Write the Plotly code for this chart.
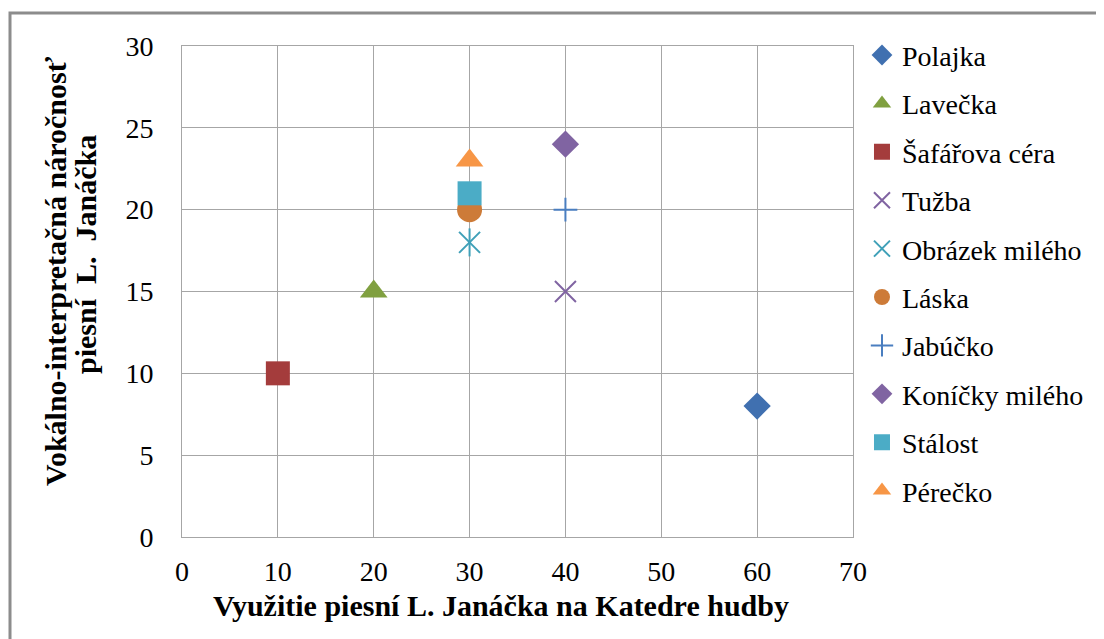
import plotly.graph_objects as go

names = ["Polajka", "Lavečka", "Šafářova céra", "Tužba", "Obrázek milého",
         "Láska", "Jabúčko", "Koníčky milého", "Stálost", "Pérečko"]
x_vals = [60, 20, 10, 40, 30, 30, 40, 40, 30, 30]
y_vals = [8, 15, 10, 15, 18, 20, 20, 24, 21, 23]
symbols = ["diamond", "triangle-up", "square", "x-thin-open", "x-thin-open",
           "circle", "cross-thin-open", "diamond", "square", "triangle-up"]
sizes = [21, 24, 24, 21, 21, 25, 17, 21, 24, 24]
colors = ["#4070B0", "#80A040", "#A43C3C", "#8064A2", "#3FA0B8",
          "#CD7B38", "#4A7EC0", "#8064A2", "#4BACC6", "#F79646"]

FONT = "Liberation Serif"
FS = 28
TFS = 30

fig = go.Figure()
for i, n in enumerate(names):
    thin = symbols[i].endswith("-open")
    fig.add_trace(go.Scatter(
        x=[x_vals[i]], y=[y_vals[i]], mode="markers", name=n,
        legendgroup=n,
        marker=dict(symbol=symbols[i], size=sizes[i], color=colors[i],
                    line=dict(width=2 if thin else 0, color=colors[i])),
    ))
    if n == "Obrázek milého":
        fig.add_trace(go.Scatter(
            x=[x_vals[i]], y=[y_vals[i]], mode="markers", showlegend=False,
            legendgroup=n, hoverinfo="skip",
            marker=dict(symbol="line-ns-open", size=20, color=colors[i],
                        line=dict(width=2, color=colors[i])),
        ))

grid = "#a6a6a6"
fig.update_layout(
    width=1096, height=631,
    margin=dict(l=174, r=251, t=38, b=102),
    paper_bgcolor="white", plot_bgcolor="white",
    font=dict(family=FONT, size=FS, color="black"),
    showlegend=True,
    legend=dict(x=1.0134, y=1.032, xanchor="left", yanchor="top",
                font=dict(family=FONT, size=FS, color="black"),
                tracegroupgap=9, itemsizing="trace", maxheight=1),
    xaxis=dict(range=[0, 70], dtick=10, tick0=0, showgrid=True, gridcolor=grid,
               gridwidth=1, zeroline=False, showline=True, linecolor=grid,
               mirror=True, ticks="", tickfont=dict(family=FONT, size=FS),
               ticklabelstandoff=9),
    yaxis=dict(range=[0, 30], dtick=5, tick0=0, showgrid=True, gridcolor=grid,
               gridwidth=1, zeroline=False, showline=True, linecolor=grid,
               mirror=True, ticks="", tickfont=dict(family=FONT, size=FS),
               ticklabelstandoff=22),
    annotations=[
        dict(text="<b>Využitie piesní L. Janáčka na Katedre hudby</b>",
             xref="paper", yref="paper", x=(493 - 174) / 671, y=(529 - 597) / 491,
             xanchor="center", yanchor="middle", showarrow=False,
             font=dict(family=FONT, size=TFS)),
        dict(text="<b>Vokálno-interpretačná náročnosť</b>", textangle=-90,
             xref="paper", yref="paper", x=(47 - 174) / 671, y=(529 - 263) / 491,
             xanchor="center", yanchor="middle", showarrow=False,
             font=dict(family=FONT, size=TFS)),
        dict(text="<b>piesní  L.  Janáčka</b>", textangle=-90,
             xref="paper", yref="paper", x=(77 - 174) / 671, y=(529 - 247) / 491,
             xanchor="center", yanchor="middle", showarrow=False,
             font=dict(family=FONT, size=TFS)),
    ],
    shapes=[dict(type="rect", xref="paper", yref="paper",
                 x0=(2 - 174) / 671, x1=1.40, y0=-0.25, y1=(529 - 5) / 491,
                 line=dict(color="#8c8c8c", width=3), layer="below")],
)

fig.write_html("out.html")
